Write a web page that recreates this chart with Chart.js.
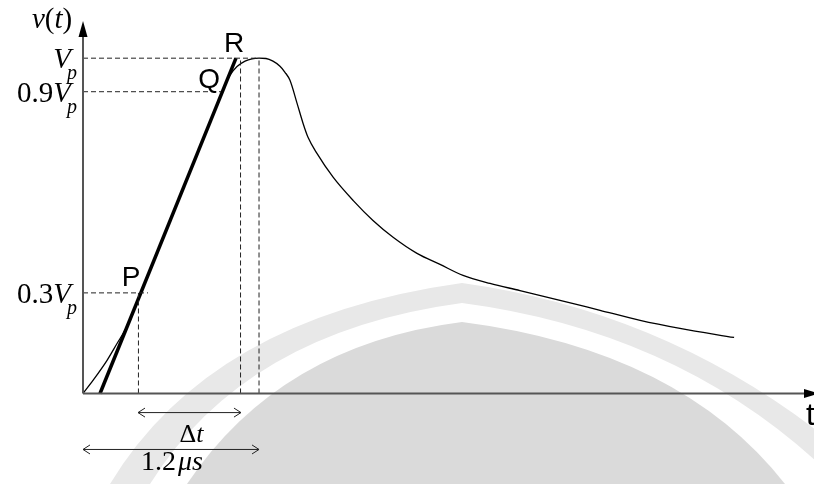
<!DOCTYPE html>
<html>
<head>
<meta charset="utf-8">
<script src="https://cdn.jsdelivr.net/npm/chart.js@4.4.0/dist/chart.umd.min.js"></script>
<style>
  html, body { margin: 0; padding: 0; background: #fff; }
  #wrap { width: 814px; height: 484px; position: relative; }
</style>
</head>
<body>
<div id="wrap"><canvas id="chart"></canvas></div>
<script>
// impulse voltage v(t), time in µs, voltage as a fraction of Vp
const curveT = [0, 0.068, 0.164, 0.232, 0.290, 0.345, 0.394, 0.580, 0.765, 0.904, 0.950, 1.0, 1.05, 1.105, 1.152, 1.2,
  1.248, 1.295, 1.343, 1.377, 1.411, 1.459, 1.5, 1.534, 1.595, 1.705, 1.841, 1.977, 2.114, 2.277, 2.434,
  2.591, 2.775, 2.979, 3.252, 3.525, 3.798, 4.07, 4.439];
const curveV = [0, 0.039, 0.099, 0.149, 0.192, 0.247, 0.3, 0.5, 0.7, 0.85, 0.9, 0.948, 0.975, 0.991, 0.998, 1.0,
  0.999, 0.991, 0.976, 0.958, 0.934, 0.866, 0.806, 0.764, 0.716, 0.645, 0.576, 0.516, 0.466, 0.418, 0.385,
  0.352, 0.328, 0.307, 0.278, 0.248, 0.218, 0.194, 0.167];

// straight line through P and Q (virtual front)
const tangentT = [0.116, 1.043];
const tangentV = [0, 1];

// level lines on the y axis
const levelValues = [1, 0.9, 0.3];
const levelLabels = ["", "0.9", "0.3"];
const levelEnds = [1.2, 0.941, 0.443];

// vertical dashed markers
const markerT = [0.378, 1.074, 1.2];
const markerTop = [0.3, 1, 1];

// points P, Q, R
const pointNames = ["P", "Q", "R"];
const pointT = [0.394, 0.950, 1.043];
const pointV = [0.3, 0.9, 1];

// dimension arrows under the axis
const dimStart = [0.375, 0];
const dimEnd = [1.077, 1.2];
const dimLevel = [-0.057, -0.167];

const xy = (ts, vs) => ts.map((t, i) => ({ x: t, y: vs[i] }));

const datasets = [];
levelValues.forEach((v, i) => {
  datasets.push({ data: xy([0, levelEnds[i]], [v, v]), borderColor: "#222", borderWidth: 1, borderDash: [5, 3] });
});
markerT.forEach((t, i) => {
  datasets.push({ data: xy([t, t], [0, markerTop[i]]), borderColor: "#222", borderWidth: 1, borderDash: [5, 3] });
});
dimStart.forEach((t, i) => {
  datasets.push({ data: xy([t, dimEnd[i]], [dimLevel[i], dimLevel[i]]), borderColor: "#222", borderWidth: 1 });
});
datasets.push({ data: xy(curveT, curveV), borderColor: "#000", borderWidth: 1.3, cubicInterpolationMode: "monotone" });
datasets.push({ data: xy(tangentT, tangentV), borderColor: "#000", borderWidth: 3.5 });
datasets.forEach((d) => { d.pointRadius = 0; d.fill = false; });

// watermark arch (background decoration)
const archShapes = [
  { color: "#e8e8e8", path: [110, 484, 210, 318, 462, 283, 700, 316, 880, 484] },
  { color: "#ffffff", path: [150, 484, 245, 332, 462, 303, 690, 333, 840, 484] },
  { color: "#dadada", path: [187, 484, 280, 345, 462, 322, 680, 350, 785, 484] },
];

const backgroundArch = {
  id: "backgroundArch",
  beforeDraw(chart) {
    const { ctx } = chart;
    ctx.save();
    ctx.fillStyle = "#fff";
    ctx.fillRect(0, 0, chart.width, chart.height);
    archShapes.forEach((s) => {
      const p = s.path;
      ctx.beginPath();
      ctx.moveTo(p[0], p[1]);
      ctx.quadraticCurveTo(p[2], p[3], p[4], p[5]);
      ctx.quadraticCurveTo(p[6], p[7], p[8], p[9]);
      ctx.closePath();
      ctx.fillStyle = s.color;
      ctx.fill();
    });
    ctx.restore();
  },
};

const SERIF = "'Liberation Serif', 'Times New Roman', serif";
const SANS = "'Liberation Sans', Arial, sans-serif";

// draws text made of roman / italic / subscript pieces
function richText(ctx, parts, x, y, align) {
  const fontOf = (p) => `${p.italic ? "italic " : ""}${p.size}px ${SERIF}`;
  let total = 0;
  parts.forEach((p) => { ctx.font = fontOf(p); total += ctx.measureText(p.text).width + (p.kern || 0); });
  let cx = align === "right" ? x - total : align === "center" ? x - total / 2 : x;
  parts.forEach((p) => {
    ctx.font = fontOf(p);
    cx += p.kern || 0;
    ctx.fillText(p.text, cx, y + (p.dy || 0));
    cx += ctx.measureText(p.text).width;
  });
}

const annotations = {
  id: "annotations",
  afterDatasetsDraw(chart) {
    const { ctx, scales: { x, y } } = chart;
    const x0 = x.getPixelForValue(0);
    const y0 = y.getPixelForValue(0);
    ctx.save();

    // axes
    ctx.strokeStyle = "#555";
    ctx.lineWidth = 2;
    ctx.beginPath();
    ctx.moveTo(x0, y0);
    ctx.lineTo(x0, 32);
    ctx.moveTo(x0, y0);
    ctx.lineTo(chart.width - 6, y0);
    ctx.stroke();
    ctx.fillStyle = "#000";
    ctx.beginPath();
    ctx.moveTo(x0, 21);
    ctx.lineTo(x0 - 4.5, 37);
    ctx.lineTo(x0 + 4.5, 37);
    ctx.closePath();
    ctx.fill();
    ctx.beginPath();
    ctx.moveTo(chart.width + 5, y0);
    ctx.lineTo(chart.width - 10, y0 - 4.5);
    ctx.lineTo(chart.width - 10, y0 + 4.5);
    ctx.closePath();
    ctx.fill();

    // open arrow heads on the dimension lines
    ctx.strokeStyle = "#222";
    ctx.lineWidth = 1;
    dimStart.forEach((t, i) => {
      const py = y.getPixelForValue(dimLevel[i]);
      const a = x.getPixelForValue(t);
      const b = x.getPixelForValue(dimEnd[i]);
      ctx.beginPath();
      ctx.moveTo(a + 7, py - 4.5);
      ctx.lineTo(a, py);
      ctx.lineTo(a + 7, py + 4.5);
      ctx.moveTo(b - 7, py - 4.5);
      ctx.lineTo(b, py);
      ctx.lineTo(b - 7, py + 4.5);
      ctx.stroke();
    });

    ctx.fillStyle = "#000";
    ctx.textBaseline = "alphabetic";

    // y axis level labels
    levelValues.forEach((v, i) => {
      const py = y.getPixelForValue(v) + 10;
      const parts = [];
      if (levelLabels[i]) parts.push({ text: levelLabels[i], size: 29 });
      parts.push({ text: "V", italic: true, size: 29 });
      parts.push({ text: "p", italic: true, size: 20, dy: 11, kern: -4 });
      richText(ctx, parts, 77, py, "right");
    });

    // v(t) title
    richText(ctx, [
      { text: "v", italic: true, size: 29 },
      { text: "(", size: 29 },
      { text: "t", italic: true, size: 29 },
      { text: ")", size: 29 },
    ], 32, 28, "left");

    // dimension labels
    const mid = (x.getPixelForValue(dimStart[0]) + x.getPixelForValue(dimEnd[0])) / 2;
    richText(ctx, [{ text: "Δ", size: 26 }, { text: "t", italic: true, size: 26 }], mid + 2, 442, "center");
    richText(ctx, [{ text: "1.2", size: 28 }, { text: "μs", italic: true, size: 28, kern: 2 }], 141, 470, "left");

    // P, Q, R labels
    const offsets = [[-19, -7], [-24, -4], [-12, -6]];
    ctx.font = `28px ${SANS}`;
    pointNames.forEach((n, i) => {
      const px = x.getPixelForValue(pointT[i]);
      const py = y.getPixelForValue(pointV[i]);
      ctx.fillText(n, px + offsets[i][0], py + offsets[i][1]);
    });

    // time axis label
    ctx.font = `31px ${SANS}`;
    ctx.fillText("t", 806, 425);

    ctx.restore();
  },
};

new Chart(document.getElementById("chart"), {
  type: "line",
  data: { datasets },
  plugins: [backgroundArch, annotations],
  options: {
    animation: false,
    responsive: true,
    maintainAspectRatio: false,
    layout: { padding: { left: 83, right: 2, top: 28, bottom: 0 } },
    scales: {
      x: { type: "linear", min: 0, max: 4.97, display: false },
      y: { type: "linear", min: -0.27, max: 1.09, display: false },
    },
    plugins: {
      legend: { display: false },
      tooltip: { enabled: false },
    },
  },
});
</script>
</body>
</html>
